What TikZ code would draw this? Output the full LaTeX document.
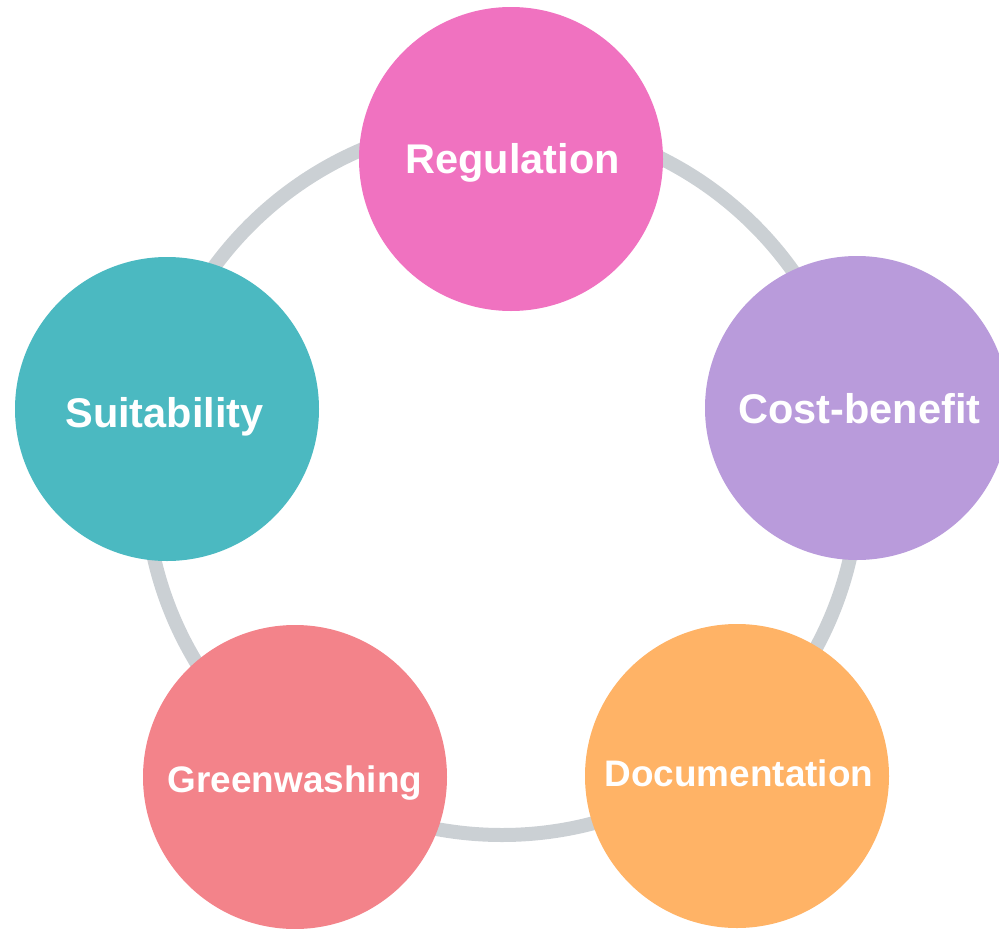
\documentclass[tikz,border=0pt]{standalone}
\usepackage{fontspec}
\setmainfont{Liberation Sans}
\definecolor{ringgray}{RGB}{203,208,212}
\definecolor{cpink}{RGB}{240,114,192}
\definecolor{cpurple}{RGB}{185,155,219}
\definecolor{corange}{RGB}{255,179,102}
\definecolor{csalmon}{RGB}{243,131,138}
\definecolor{cteal}{RGB}{75,185,193}
\begin{document}
\begin{tikzpicture}[x=1pt,y=-1pt,
  bubble/.style={circle,minimum size=304pt,inner sep=0pt,draw=none},
  bigtxt/.style={anchor=base,text=white,inner sep=0pt,font=\fontsize{41.5}{41.5}\selectfont\bfseries},
  smalltxt/.style={anchor=base,text=white,inner sep=0pt,font=\fontsize{36.9}{36.9}\selectfont\bfseries}]
\useasboundingbox (0,0) rectangle (999,929);
\coordinate (ringc) at (502,478);
\draw[ringgray,line width=14pt] (ringc) circle[radius=357pt];
\node[bubble,fill=cpink]   (reg) at (511,159) {};
\node[bubble,fill=cpurple] (cost) at (857,408) {};
\node[bubble,fill=corange] (doc) at (737,776) {};
\node[bubble,fill=csalmon] (green) at (295,777) {};
\node[bubble,fill=cteal]   (suit) at (167,409) {};
\node[bigtxt]   (regt)   at (512.5,173.5) {Regulation};
\node[bigtxt]   (costt)  at (859.5,423.5) {Cost-benefit};
\node[smalltxt] (doct)   at (739,786.5) {Documentation};
\node[smalltxt] (greent) at (295,792.5) {Greenwashing};
\node[bigtxt]   (suitt)  at (164.5,427.5) {Suitability};
\end{tikzpicture}
\end{document}
